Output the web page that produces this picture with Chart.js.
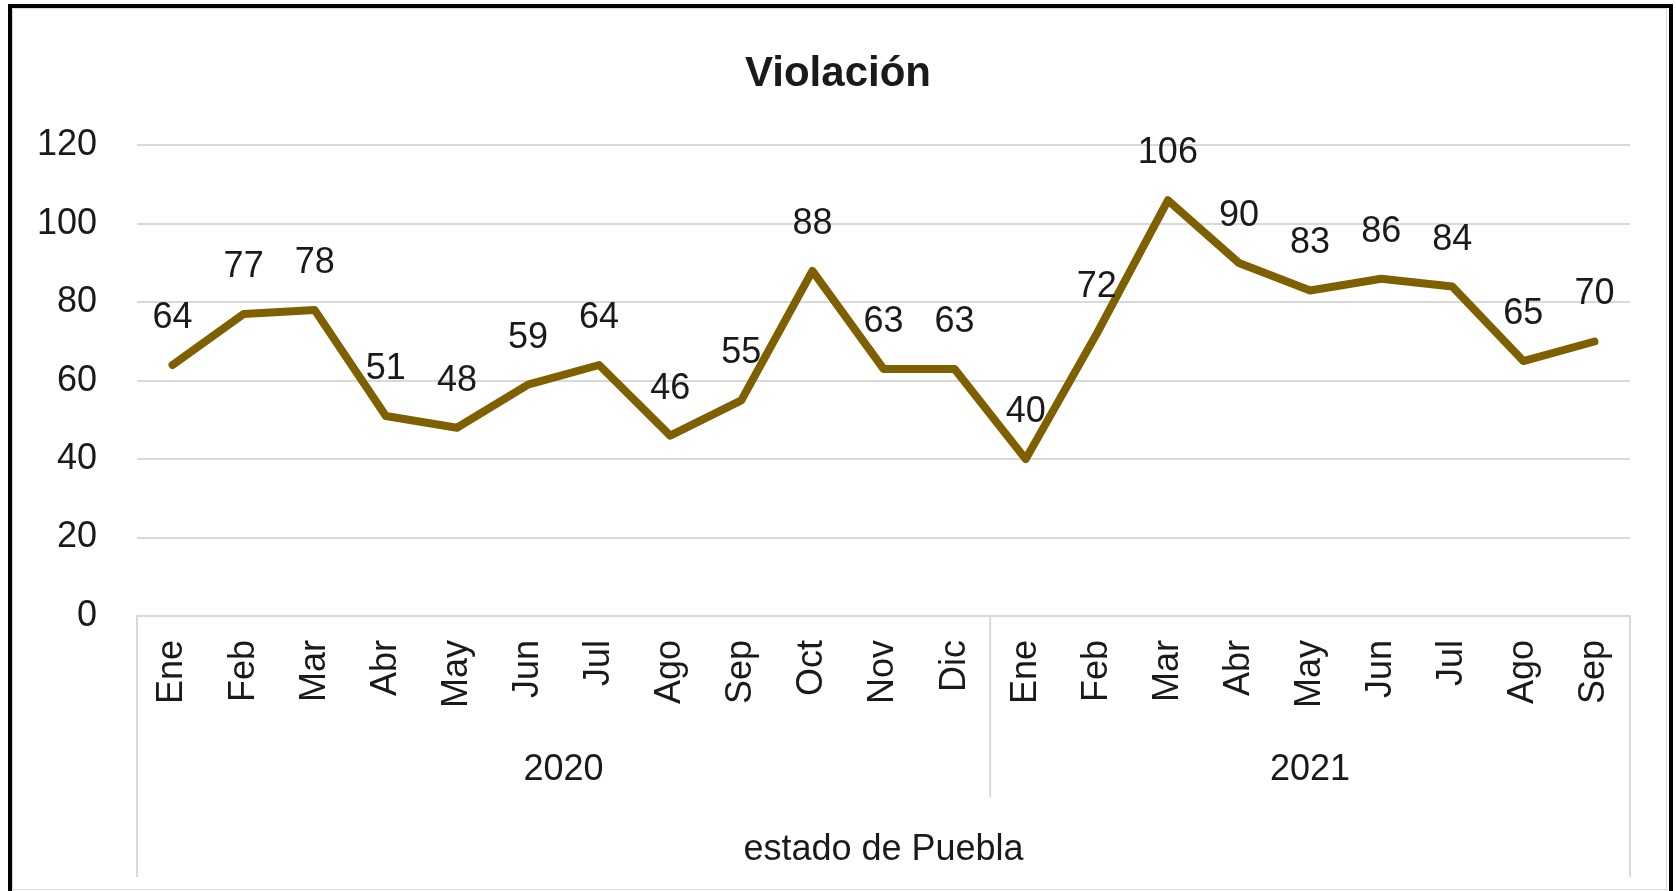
<!DOCTYPE html>
<html>
<head>
<meta charset="utf-8">
<script src="https://cdn.jsdelivr.net/npm/chart.js@4/dist/chart.umd.min.js"></script>
<style>
  html, body { margin: 0; padding: 0; background: #fff; }
  #wrap { position: relative; width: 1676px; height: 891px; overflow: hidden; }
  #frame { position: absolute; left: 8px; top: 4px; width: 1657px; height: 900px;
           border: 4px solid #000; border-bottom: none; pointer-events: none; }
  #inner { position: absolute; left: 12px; top: 8px; width: 1653px; height: 880px;
           border: 1px solid #d9d9d9; pointer-events: none; }
</style>
</head>
<body>
<div id="wrap">
  <canvas id="chart" width="1676" height="891"></canvas>
  <div id="inner"></div>
  <div id="frame"></div>
</div>
<script>
const months = ['Ene', 'Feb', 'Mar', 'Abr', 'May', 'Jun', 'Jul', 'Ago', 'Sep', 'Oct', 'Nov', 'Dic',
                'Ene', 'Feb', 'Mar', 'Abr', 'May', 'Jun', 'Jul', 'Ago', 'Sep'];
const values = [64, 77, 78, 51, 48, 59, 64, 46, 55, 88, 63, 63,
                40, 72, 106, 90, 83, 86, 84, 65, 70];
const years = ['2020', '2021'];
const yearSizes = [12, 9];
const outerLabel = 'estado de Puebla';
const yTicks = [0, 20, 40, 60, 80, 100, 120];

const textColor = '#1a1a1a';
const gridColor = '#d9d9d9';
const lineColor = '#7f6000';
const fontFamily = '"Liberation Sans", Arial, sans-serif';

// labels above each point
const valueLabels = {
    id: 'valueLabels',
    afterDatasetsDraw(chart) {
        const c = chart.ctx;
        const meta = chart.getDatasetMeta(0);
        c.save();
        c.font = '36px ' + fontFamily;
        c.fillStyle = textColor;
        c.textAlign = 'center';
        c.textBaseline = 'middle';
        meta.data.forEach((pt, i) => {
            c.fillText(String(values[i]), pt.x, pt.y - 47);
        });
        c.restore();
    }
};

// year groups and outer label under the month ticks
const groupAxis = {
    id: 'groupAxis',
    afterDraw(chart) {
        const c = chart.ctx;
        const xs = chart.scales.x;
        const top = chart.chartArea.bottom;
        const half = (xs.getPixelForValue(1) - xs.getPixelForValue(0)) / 2;
        c.save();
        c.strokeStyle = gridColor;
        c.lineWidth = 2;
        c.fillStyle = textColor;
        c.font = '36px ' + fontFamily;
        c.textAlign = 'center';
        c.textBaseline = 'middle';

        const vline = (x, y2) => {
            c.beginPath();
            c.moveTo(x, top);
            c.lineTo(x, y2);
            c.stroke();
        };

        let start = 0;
        years.forEach((yr, g) => {
            const end = start + yearSizes[g] - 1;
            const x0 = xs.getPixelForValue(start) - half;
            const x1 = xs.getPixelForValue(end) + half;
            if (g > 0) vline(x0, 797);
            c.fillText(yr, (x0 + x1) / 2, 770);
            start = end + 1;
        });

        const left = xs.getPixelForValue(0) - half;
        const right = xs.getPixelForValue(months.length - 1) + half;
        vline(left, 877);
        vline(right, 877);
        c.fillText(outerLabel, (left + right) / 2, 850);
        c.restore();
    }
};

new Chart(document.getElementById('chart').getContext('2d'), {
    type: 'line',
    data: {
        labels: months,
        datasets: [{
            data: values,
            borderColor: lineColor,
            borderWidth: 8,
            borderCapStyle: 'round',
            borderJoinStyle: 'round',
            pointRadius: 0,
            tension: 0,
            fill: false
        }]
    },
    options: {
        responsive: false,
        animation: false,
        layout: { padding: 0 },
        plugins: {
            legend: { display: false },
            tooltip: { enabled: false },
            title: {
                display: true,
                text: 'Violación',
                color: textColor,
                font: { family: fontFamily, size: 42, weight: 'bold' },
                padding: { top: 49, bottom: 46 }
            }
        },
        scales: {
            x: {
                type: 'category',
                offset: true,
                grid: { display: false, drawTicks: false },
                border: { display: true, color: gridColor, width: 2 },
                ticks: {
                    color: textColor,
                    font: { family: fontFamily, size: 36 },
                    minRotation: 90,
                    maxRotation: 90,
                    autoSkip: false,
                    padding: 24
                },
                afterFit(scale) { scale.height = 275; }
            },
            y: {
                min: 0,
                max: 120,
                afterBuildTicks(scale) { scale.ticks = yTicks.map(v => ({ value: v })); },
                grid: { color: gridColor, lineWidth: 2, drawTicks: false },
                border: { display: false },
                ticks: {
                    color: textColor,
                    font: { family: fontFamily, size: 36 },
                    padding: 40
                },
                afterFit(scale) { scale.width = 137; }
            },
            // empty right axis, only keeps the right margin so the title stays centred on the page
            yRight: {
                position: 'right',
                min: 0,
                max: 120,
                grid: { display: false, drawTicks: false },
                border: { display: false },
                ticks: { display: false },
                afterFit(scale) { scale.width = 46; }
            }
        }
    },
    plugins: [valueLabels, groupAxis]
});
</script>
</body>
</html>
